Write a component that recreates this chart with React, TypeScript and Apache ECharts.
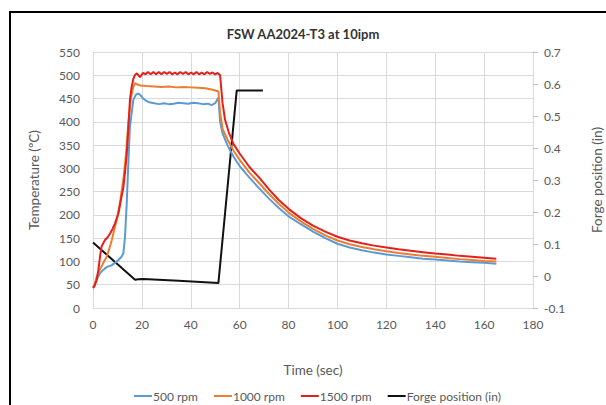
import React, { useEffect, useRef } from "react";
import * as echarts from "echarts";

const chartTitle = "FSW AA2024-T3 at 10ipm";
const seriesNames = ["500 rpm", "1000 rpm", "1500 rpm", "Forge position (in)"];
const xAxisName = "Time (sec)";
const leftAxisName = "Temperature (ºC)";
const rightAxisName = "Forge position (in)";

// [time (s), temperature (ºC)]
const rpm500: number[][] = [
  [0, 44], [0.5, 47], [1, 55], [2, 66], [2.9, 75], [4, 81], [4.9, 85], [6, 89], [7.7, 92], [9, 97],
  [10.4, 103], [11.5, 109], [12.4, 117], [13.1, 153], [13.8, 225], [14.5, 318], [15.1, 389], [16.5, 447],
  [17.5, 458], [18.5, 461], [19.5, 457], [20.5, 450], [21.5, 446], [23, 442], [25, 440], [27, 438],
  [29, 440], [31, 438], [33, 439], [35, 441], [37, 440], [39, 439], [41, 441], [43, 440], [45, 438],
  [47, 439], [48.5, 436], [50, 440], [51.3, 452], [52, 400], [53, 375], [55, 350], [57.5, 325], [60, 305],
  [64, 280], [68, 257], [72, 235], [76, 215], [80, 197], [85, 180], [90, 164], [95, 150], [100, 138],
  [105, 130], [110, 124], [115, 119], [120, 115], [125, 112], [130, 109], [135, 106], [140, 104],
  [145, 102], [150, 100], [155, 98.5], [160, 97], [165, 95],
];

const rpm1000: number[][] = [
  [0, 45], [0.7, 50], [1.5, 67], [2.5, 80], [3.5, 89], [4.5, 100], [5.6, 110], [6.7, 128], [7.7, 146],
  [8.7, 168], [9.7, 189], [11, 225], [12.4, 275], [13.5, 330], [14.5, 400], [15.5, 450], [16.3, 472],
  [17.2, 483], [18.2, 480], [19.5, 478], [22, 477], [25, 476], [28, 475], [31, 476], [34, 474], [37, 475],
  [40, 474], [43, 473], [46, 472], [49, 469], [51.3, 465], [52, 420], [53, 385], [55, 362], [57.5, 338],
  [60, 318], [64, 291], [68, 268], [72, 245], [76, 224], [80, 205], [85, 186], [90, 170], [95, 156],
  [100, 145], [105, 137], [110, 131], [115, 126], [120, 122], [125, 118], [130, 115], [135, 112],
  [140, 110], [145, 107.5], [150, 105], [155, 103], [160, 101], [165, 100],
];

const rpm1500: number[][] = [
  [0, 43], [0.5, 46], [1.5, 60], [2.2, 82], [3, 115], [3.5, 132], [4.9, 146], [6, 152], [7, 160], [8, 170],
  [9, 182], [10.4, 203], [11.7, 240], [12.4, 258], [13.1, 292], [13.8, 330], [14.5, 390], [15.1, 447],
  [15.8, 475], [16.5, 492], [17.2, 501], [18, 504], [19.2, 496], [20.5, 505], [21.5, 502], [22.5, 507],
  [23.6, 502], [24.7, 507], [25.8, 502], [26.9, 507], [28, 502], [29.1, 507], [30.2, 503], [31.3, 507],
  [32.4, 502], [33.5, 506], [34.6, 502], [35.7, 507], [36.8, 503], [37.9, 507], [39, 502], [40.1, 506],
  [41.2, 502], [42.3, 507], [43.4, 502], [44.5, 506], [45.6, 502], [46.7, 507], [47.8, 503], [48.9, 506],
  [50, 502], [51, 505], [52, 500], [52.5, 470], [53, 440], [54, 405], [55.5, 378], [57.5, 352], [60, 332],
  [64, 303], [68, 280], [72, 255], [76, 232], [80, 213], [85, 193], [90, 177], [95, 164], [100, 153],
  [105, 145], [110, 139], [115, 134], [120, 130], [125, 126], [130, 123], [135, 120], [140, 117],
  [145, 115], [150, 112], [155, 110], [160, 108], [165, 106],
];

// [time (s), forge position (in)]
const forge: number[][] = [
  [0, 0.105], [17.2, -0.012], [18.5, -0.01], [20.6, -0.009], [35, -0.015], [51.3, -0.022],
  [58.8, 0.58], [69.5, 0.58],
];

const colors = ["#5B9BD5", "#ED7D31", "#E3211C", "#111111"];
const FONT = "Lato, 'Open Sans', sans-serif";
const GRAY = "#595959";
const GRID = "#d9d9d9";

export default function App() {
  const ref = useRef<HTMLDivElement>(null);
  useEffect(() => {
    if (!ref.current) return;
    const chart = echarts.init(ref.current, null, { renderer: "svg" });
    const dataSets = [rpm500, rpm1000, rpm1500, forge];
    chart.setOption({
      animation: false,
      backgroundColor: "#ffffff",
      color: colors,
      textStyle: { fontFamily: FONT },
      title: {
        text: chartTitle,
        left: "center",
        top: 22,
        textStyle: { fontFamily: FONT, fontSize: 13, fontWeight: "bold", color: "#333333" },
      },
      graphic: [
        {
          type: "rect",
          shape: { x: 10, y: 12, width: 640, height: 440 },
          style: { fill: "none", stroke: "#000000", lineWidth: 2 },
          silent: true,
        },
      ],
      legend: {
        left: 129,
        top: 385,
        icon: "rect",
        itemWidth: 18,
        itemHeight: 2,
        itemGap: 16,
        data: seriesNames,
        textStyle: { fontFamily: FONT, fontSize: 12, color: GRAY, padding: [0, 0, 0, -4] },
      },
      grid: { left: 93, right: 73, top: 52, bottom: 97, containLabel: false, outerBoundsMode: "none" },
      xAxis: {
        type: "value",
        min: 0,
        max: 180,
        interval: 20,
        name: xAxisName,
        nameLocation: "middle",
        nameGap: 55,
        nameTextStyle: { fontFamily: FONT, fontSize: 13.5, color: GRAY },
        axisLine: { show: true, lineStyle: { color: GRID } },
        axisTick: { show: false },
        axisLabel: { fontFamily: FONT, fontSize: 12, color: GRAY, margin: 10 },
        splitLine: { show: true, lineStyle: { color: GRID } },
      },
      yAxis: [
        {
          type: "value",
          min: 0,
          max: 550,
          interval: 50,
          name: leftAxisName,
          nameLocation: "middle",
          nameGap: 52,
          nameTextStyle: { fontFamily: FONT, fontSize: 13.5, color: GRAY },
          axisLine: { show: false },
          axisTick: { show: false },
          axisLabel: { fontFamily: FONT, fontSize: 12, color: GRAY, margin: 13 },
          splitLine: { show: true, lineStyle: { color: GRID } },
        },
        {
          type: "value",
          min: -0.1,
          max: 0.7,
          interval: 0.1,
          name: rightAxisName,
          nameLocation: "middle",
          nameGap: 57,
          nameRotate: 90,
          nameTextStyle: { fontFamily: FONT, fontSize: 13.5, color: GRAY },
          axisLine: { show: true, lineStyle: { color: GRID } },
          axisTick: { show: true, length: 5, lineStyle: { color: "#bfbfbf" } },
          axisLabel: {
            fontFamily: FONT,
            fontSize: 12,
            color: GRAY,
            margin: 11,
            formatter: (v: number) => String(Math.round(v * 10) / 10),
          },
          splitLine: { show: false },
        },
      ],
      series: dataSets.map((d, i) => ({
        name: seriesNames[i],
        type: "line",
        yAxisIndex: i === 3 ? 1 : 0,
        data: d,
        showSymbol: false,
        symbol: "none",
        lineStyle: { width: 2, color: colors[i] },
        itemStyle: { color: colors[i] },
        z: i === 3 ? 1 : 2 + i,
      })),
    });
    return () => chart.dispose();
  }, []);
  return (
    <div
      ref={ref}
      style={{ position: "absolute", left: 0, top: 0, width: 606, height: 405, background: "#fff" }}
    />
  );
}
